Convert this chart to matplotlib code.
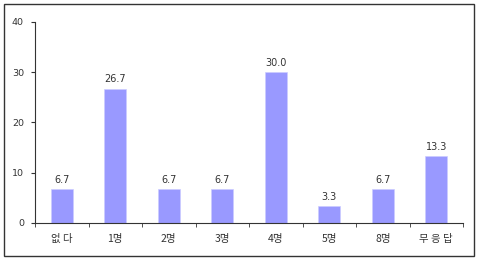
import matplotlib
matplotlib.use("Agg")
import matplotlib.pyplot as plt
from matplotlib.patches import Rectangle

plt.rcParams['font.family'] = ['DejaVu Sans', 'Noto Sans CJK KR']

categories = ['없 다', '1명', '2명', '3명', '4명', '5명', '8명', '무 응 답']
values = [6.7, 26.7, 6.7, 6.7, 30.0, 3.3, 6.7, 13.3]
labels = ['6.7', '26.7', '6.7', '6.7', '30.0', '3.3', '6.7', '13.3']
yticks = [0, 10, 20, 30, 40]

fig = plt.figure(figsize=(4.8, 2.6), dpi=100)
fig.patch.set_facecolor('white')
fig.patches.append(Rectangle((4/480, 4/260), 470/480, 252/260, transform=fig.transFigure,
                             fill=False, edgecolor='#333333', linewidth=1.0))

ax = fig.add_axes([35/480, 37/260, 428/480, 201/260])
x = list(range(len(categories)))
ax.bar(x, values, width=0.42, color='#9999FF', edgecolor='#ccccff', linewidth=0.5)
for xi, v, l in zip(x, values, labels):
    ax.text(xi, v + 0.9, l, ha='center', va='bottom', fontsize=7, color='#333333')

ax.set_xlim(-0.5, len(categories) - 0.5)
ax.set_ylim(0, 40)
ax.set_yticks(yticks)
ax.set_yticklabels([str(t) for t in yticks], fontsize=6.8, color='#333333')
ax.set_xticks(x)
ax.set_xticklabels(categories, fontsize=7.5, color='#333333',
                   family=['Noto Sans CJK KR', 'DejaVu Sans'])
ax.tick_params(axis='x', length=0, pad=8)
ax.set_xticks([i + 0.5 for i in range(-1, len(categories))], minor=True)
ax.tick_params(axis='x', which='minor', length=3, direction='out', color='#333333')
ax.tick_params(axis='y', length=3, direction='out', color='#333333', pad=5)
for s in ['top', 'right']:
    ax.spines[s].set_visible(False)
ax.spines['left'].set_color('#333333')
ax.spines['bottom'].set_color('#333333')
ax.spines['left'].set_linewidth(0.8)
ax.spines['bottom'].set_linewidth(0.8)

fig.savefig('out.png', dpi=100)
